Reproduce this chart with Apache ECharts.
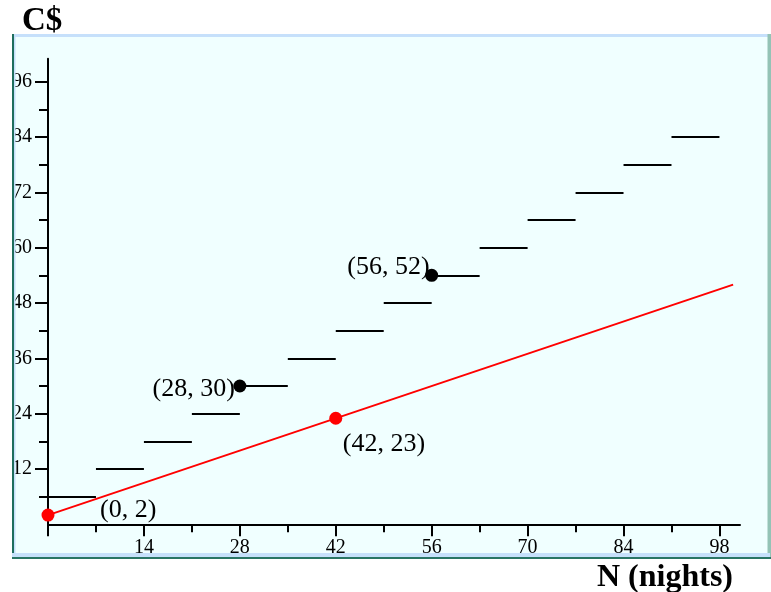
<!DOCTYPE html>
<html><head><meta charset="utf-8">
<script src="https://cdn.jsdelivr.net/npm/echarts@6/dist/echarts.min.js"></script>
<style>html,body{margin:0;padding:0;background:#fff}#c{width:771px;height:592px}</style>
</head><body><div id="c"></div>
<script>
// ---- data ----
const stepStartX = [-1.3, 7, 14, 21, 28, 35, 42, 49, 56, 63, 70, 77, 84, 91];
const stepEndX   = [7, 14, 21, 28, 35, 42, 49, 56, 63, 70, 77, 84, 91, 98];
const stepY      = [6, 12, 18, 24, 30, 36, 42, 48, 54, 60, 66, 72, 78, 84];
const redLineX = [0, 100];
const redLineY = [2, 52];
const redPointsX = [0, 42];
const redPointsY = [2, 23];
const redPointLabels = ['(0, 2)', '(42, 23)'];
const blackPointsX = [28, 56];
const blackPointsY = [30, 54];
const blackPointLabels = ['(28, 30)', '(56, 52)'];
const xMajorTicks = [0, 14, 28, 42, 56, 70, 84, 98];
const xMinorTicks = [7, 21, 35, 49, 63, 77, 91];
const xTickLabels = [14, 28, 42, 56, 70, 84, 98];
const yMajorTicks = [12, 24, 36, 48, 60, 72, 84, 96];
const yMinorTicks = [6, 18, 30, 42, 54, 66, 78, 90];
const yTickLabels = [12, 24, 36, 48, 60, 72, 84, 96];
const yAxisTitle = 'C$';
const xAxisTitle = 'N (nights)';

// ---- styles ----
const SERIF = '"Liberation Serif","Times New Roman",serif';
const redLabelStyle = [
  { align: 'left', offset: [52, -5] },
  { align: 'left', offset: [7, 26] }
];
const blackLabelStyle = [
  { align: 'right', offset: [-5, 3] },
  { align: 'right', offset: [-2, -8] }
];
const GRID = { left: 48, top: 58.7, width: 692, height: 465.6, outerBoundsMode: 'none', containLabel: false };
const XR = { min: 0, max: 101 };
const YR = { min: 0, max: 101 };

const chart = echarts.init(document.getElementById('c'), null, { renderer: 'canvas' });

function pointData(xs, ys, labels, styles) {
  return xs.map((x, i) => ({
    value: [x, ys[i]],
    label: Object.assign({ formatter: labels[i] }, styles[i])
  }));
}

const labelBase = {
  show: true, position: 'inside', verticalAlign: 'middle',
  fontFamily: SERIF, fontSize: 26, color: '#000'
};

chart.setOption({
  backgroundColor: '#ffffff',
  animation: false,
  grid: [Object.assign({}, GRID), Object.assign({}, GRID)],
  xAxis: [
    Object.assign({
      type: 'value', gridIndex: 0, position: 'bottom',
      axisLine: { show: true, onZero: false, lineStyle: { color: '#000', width: 2 } },
      axisTick: { show: true, customValues: xMajorTicks, length: 12, lineStyle: { color: '#000', width: 2 } },
      axisLabel: { show: true, customValues: xTickLabels, margin: 13, fontFamily: SERIF, fontSize: 20, color: '#000' },
      splitLine: { show: false }
    }, XR),
    Object.assign({
      type: 'value', gridIndex: 1, position: 'bottom',
      axisLine: { show: false },
      axisTick: { show: true, customValues: xMinorTicks, length: 8, lineStyle: { color: '#000', width: 2 } },
      axisLabel: { show: false },
      splitLine: { show: false }
    }, XR)
  ],
  yAxis: [
    Object.assign({
      type: 'value', gridIndex: 0, position: 'left',
      axisLine: { show: true, onZero: false, lineStyle: { color: '#000', width: 2 } },
      axisTick: { show: true, customValues: yMajorTicks, length: 13, lineStyle: { color: '#000', width: 2 } },
      axisLabel: { show: true, customValues: yTickLabels, margin: 16, fontFamily: SERIF, fontSize: 20, color: '#000' },
      splitLine: { show: false }
    }, YR),
    Object.assign({
      type: 'value', gridIndex: 1, position: 'left',
      axisLine: { show: false },
      axisTick: { show: true, customValues: yMinorTicks, length: 9, lineStyle: { color: '#000', width: 2 } },
      axisLabel: { show: false },
      splitLine: { show: false }
    }, YR)
  ],
  series: [
    {
      type: 'lines', coordinateSystem: 'cartesian2d', xAxisIndex: 0, yAxisIndex: 0,
      clip: false, z: 3,
      lineStyle: { color: '#000', width: 2, opacity: 1, curveness: 0 },
      data: stepY.map((y, i) => ({ coords: [[stepStartX[i], y], [stepEndX[i], y]] }))
    },
    {
      type: 'line', xAxisIndex: 0, yAxisIndex: 0, z: 4,
      showSymbol: false, symbol: 'none',
      lineStyle: { color: '#ff0000', width: 2 },
      data: redLineX.map((x, i) => [x, redLineY[i]])
    },
    {
      type: 'scatter', xAxisIndex: 0, yAxisIndex: 0, z: 5,
      symbol: 'circle', symbolSize: 13,
      itemStyle: { color: '#ff0000', opacity: 1 },
      label: labelBase,
      data: pointData(redPointsX, redPointsY, redPointLabels, redLabelStyle)
    },
    {
      type: 'scatter', xAxisIndex: 0, yAxisIndex: 0, z: 5,
      symbol: 'circle', symbolSize: 13,
      itemStyle: { color: '#000000', opacity: 1 },
      label: labelBase,
      data: pointData(blackPointsX, blackPointsY, blackPointLabels, blackLabelStyle)
    }
  ],
  graphic: [
    { type: 'rect', z: -100, silent: true, shape: { x: 12, y: 34, width: 758, height: 525 }, style: { fill: '#f0ffff' } },
    { type: 'rect', z: 100, silent: true, shape: { x: 0, y: 30, width: 12, height: 532 }, style: { fill: '#ffffff' } },
    { type: 'rect', z: 100, silent: true, shape: { x: 12, y: 34, width: 758, height: 3 }, style: { fill: '#c6e0fb' } },
    { type: 'rect', z: 100, silent: true, shape: { x: 14, y: 34, width: 1.5, height: 523 }, style: { fill: '#c6e0fb' } },
    { type: 'rect', z: 100, silent: true, shape: { x: 12, y: 34, width: 2, height: 525 }, style: { fill: '#1f6e5e' } },
    { type: 'rect', z: 100, silent: true, shape: { x: 767.5, y: 34, width: 3.5, height: 525 }, style: { fill: '#94c3b6' } },
    { type: 'rect', z: 100, silent: true, shape: { x: 12, y: 553, width: 758, height: 4 }, style: { fill: '#c6e0fb' } },
    { type: 'rect', z: 100, silent: true, shape: { x: 12, y: 557, width: 759, height: 2 }, style: { fill: '#2a7565' } },
    { type: 'text', z: 100, silent: true, style: { text: yAxisTitle, x: 22, y: 21, verticalAlign: 'middle', align: 'left', font: 'bold 33px ' + SERIF, fill: '#000' } },
    { type: 'text', z: 100, silent: true, style: { text: xAxisTitle, x: 597, y: 578, verticalAlign: 'middle', align: 'left', font: 'bold 32px ' + SERIF, fill: '#000' } }
  ]
});
</script>
</body></html>
